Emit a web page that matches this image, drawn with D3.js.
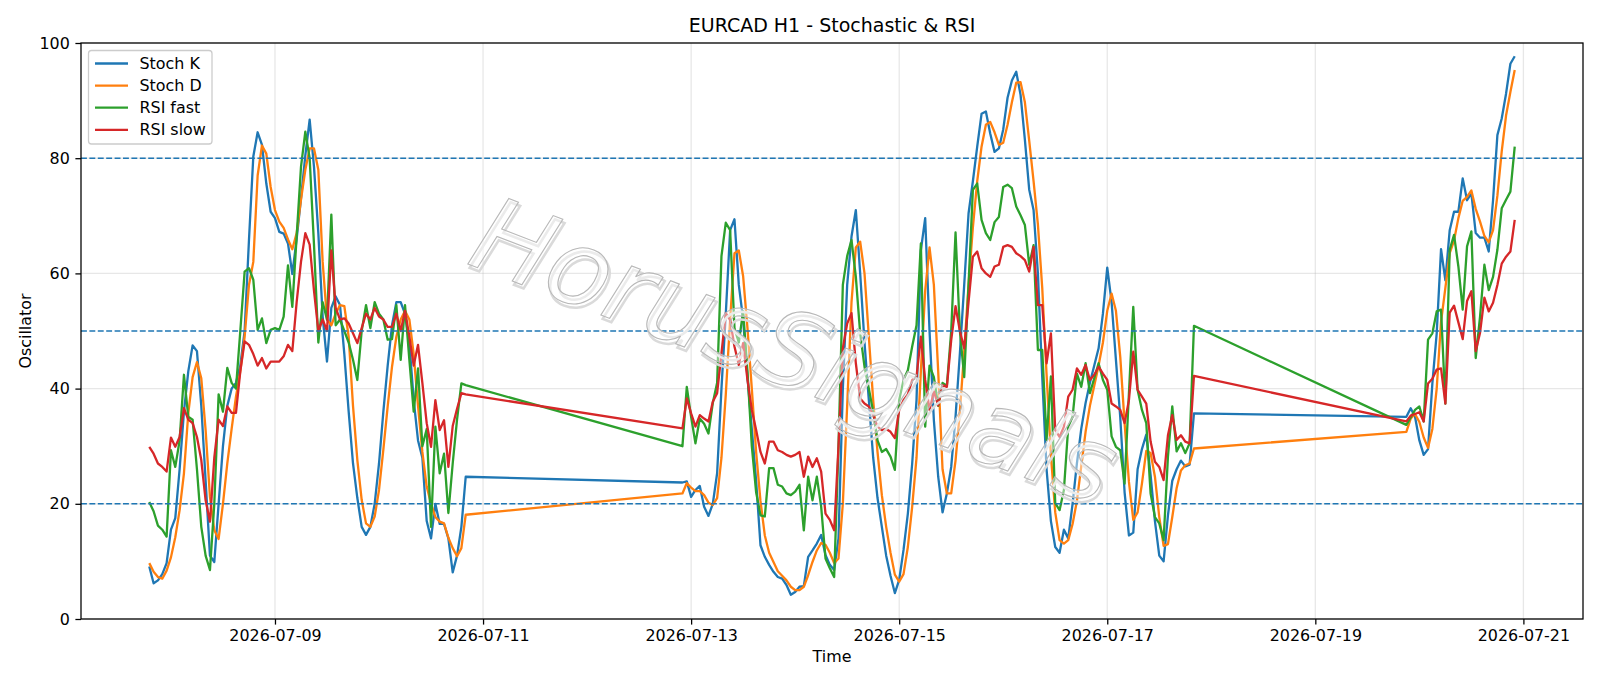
<!DOCTYPE html>
<html><head><meta charset="utf-8">
<script src="https://cdn.jsdelivr.net/npm/d3@7"></script>
<style>body{margin:0;background:#fff} svg{display:block} text{font-family:"DejaVu Sans",sans-serif}</style>
</head><body><svg id="chart" width="1600" height="686"></svg>
<script>
// hourly segments (weekend gaps between them)
const segmentStarts = ["2026-07-07T19:00:00Z", "2026-07-12T22:00:00Z", "2026-07-19T21:00:00Z"];

const stochK = [
 [9.1,6.2,6.7,7.8,9.7,15.5,17.5,26,36,43,47.5,46.5,37,24,11,9.9,20,30,37,40,41,44,50,65.8,80.3,84.5,82.3,75.6,70.7,69.6,67.2,66.9,65.2,59.9,66,73,80.5,86.7,78.5,67,52.5,44.7,54,56,54.5,46,36,27,21,16,14.6,16,20,27,36,44,51,55,55,53,48,38,31,28,17,14,20,16.5,16.5,14,8.1,11,16,24.7],
 [23.7,23.9,21.2,22.4,23.1,19.5,17.9,20,25.3,40,53,67.5,69.4,58,52,42,33,24,12.8,10.8,9.4,8.2,7.3,7.0,5.9,4.2,4.7,5.6,5.7,10.8,11.9,13.1,14.6,11.1,9.4,8.5,14,40,58,66.4,71,60,48,38,28,21,16,11,7.5,4.5,6.8,12,18.3,27,38,64,69.6,50,34.5,24.7,18.5,21.8,26.4,35.1,46.1,58,70.4,76,82,87.7,88.1,84.3,81.1,81.7,85,90.5,93.5,95,91,83.2,74.5,71,60,42,26,17,12.5,11.5,15.5,14,20,27,33,37.5,41,44,47,53,61,55,45,35,22,14.5,15,26,29.5,32,25,17,11,10,18,24,26,27.5,26.5,26.8,35.7],
 [35.1,36.6,35.1,31,28.5,29.5,40.9,49.6,64.2,58.8,67.5,70.7,70.7,76.5,72.7,73.9,67,66.2,66.2,63.8,72.7,84,86.9,91.2,96.4,97.7]
];
const stochD = [
 [9.7,8.2,7.3,7.0,8.4,10.7,14.2,18.9,25.3,35.7,42,44.6,41.8,32.8,21.2,15.4,13.9,20,27,33,38.6,43,49,58,62,77,82.2,80.8,75,71,69,67.9,65.9,64.2,67,72.8,78,81.7,81.7,78,62,52,51,53,54.5,54.3,49,37,27.6,20.7,16.6,16,17.8,22.4,29.4,36.9,43.8,49,52,53.5,52,46,37,29,23,20,17.7,16.9,16.6,14.1,12.3,10.9,12.3,18.1],
 [21.8,23.6,22.8,22.2,22.2,21.5,20.2,19.8,21,28,39,52,63.5,64,59.5,50.5,40,29,20.5,14.5,11.5,9.9,8.3,7.5,6.7,5.6,5.0,5.0,5.6,7.6,9.9,11.9,13.2,12.9,11.5,9.7,10.5,20,37,55,64.5,65.5,60,49,38,29,21.5,16,11.5,7.7,6.5,7.8,12.5,19.5,28,43,57,64.5,58,43,26,21.8,21.8,27.5,36,46.5,58,68,76,82,85.8,86.3,84.5,82.3,82.7,85.8,89.7,93.1,93.2,89.7,83,76,68.5,57.5,42.5,28.5,18.5,13.7,13.1,13.7,16.5,20.5,26.5,32.5,37,40.5,44,48,53.5,56.5,53.5,45.5,34,23.8,17.2,18.5,23.5,29.2,28.8,24.7,17.7,12.7,13,17.7,22.7,25.8,26.7,27,29.6],
 [32.5,34.8,35.6,34.2,31.5,29.7,33,40,51.6,57.5,63.5,65.7,69.6,72.6,73.3,74.4,71.2,69,66.5,65.4,67.5,73.5,81.2,87.4,91.5,95.3]
];
const rsiFast = [
 [20.3,18.7,16.2,15.5,14.3,29.3,26.4,31,42.4,35.1,34.6,26,16,11,8.5,20,39,36,43.6,41,40,50,60.3,60.9,58.9,50.2,52.2,47.9,50.2,50.5,50.2,52.5,61.4,54.2,66.4,78.5,84.6,80,65,48,55,52,70.2,51,52,50,48,45,41.5,50,54.5,50.5,55,53,52,48.5,48.6,54.5,45,54.5,45,36,43.5,30,33,16,33.4,25.3,28.7,18.4,27,34.6,40.9,40.6],
 [30,40.3,35.1,30.5,34.8,33.9,32.2,37.5,41,63,68.8,67.5,50.5,48,53.4,43,30,22,18,17.8,26.2,26.2,23.3,23,21.8,21.5,22.1,23.3,15.4,24.7,20.6,24.7,19.5,10.5,8.8,7.3,30,58,63,65.8,59.4,49.6,43.8,40,36,31,29,29.5,28.2,25.9,38,41.5,43.2,47.3,51,65.2,33.4,44,42,37,41,40.5,50,67.1,50,42,58,74.5,75.6,69.3,67,65.8,68.9,69.8,75,75.4,74.8,71.6,70.1,68.4,61.5,64.9,46.7,46.7,31.1,42.1,20.1,18.9,22.4,33.4,35.1,42.6,40.3,44.4,39.2,41.8,44.4,41.5,39.8,31.7,29.9,29.3,23.5,39.2,54.2,39.8,36.3,34,21.8,17.7,16.6,13.7,28.2,36.9,29.1,30.5,28.8,30.5,50.9],
 [33.7,35,36.3,36.9,34.3,48.5,49.6,53.4,53.7,37.4,64.1,66.7,61.2,53.7,64.7,67.3,45.3,52.5,61.5,57.1,59.4,64.1,71.3,72.8,74.2,82]
];
const rsiSlow = [
 [29.9,28.7,27,26.4,25.6,31.5,29.9,31.6,36.6,34.6,34,31.6,27.6,20.6,16.9,28,34.6,33.5,36.9,35.8,35.8,43,48.2,47.6,46,44,45.3,43.5,44.7,44.7,44.7,45.6,47.6,46.5,55,62,67,65,57,50,52,50,64,54,52,52.2,51.3,49.6,47.9,50.5,53,52,54,52.5,52,50.7,50.7,53,50,53.5,49,44,47.6,41,34,29.9,38,32.8,34.5,26.4,33.5,36.5,39.2,39],
 [33.1,38.3,35.7,33.4,35.4,34.8,34.3,37.7,39.2,46.1,53.1,51.9,47.3,44.1,47.9,41.5,36.3,32.8,29,27,30.8,30.8,29.3,29,28.5,28.2,28.5,29,24.7,28.2,26.4,27.9,25.6,18.3,17.2,15.4,30,47,51.3,53.1,44.4,38.3,37.4,36.9,35.4,33.4,32.8,33,32.5,31.4,36.3,38,39,41.5,42.1,49,41.5,36.3,39.5,37.1,40.6,40.3,48.4,54.3,50,47,55,62.9,63.8,60.9,60,59.4,61.2,61.5,64.6,64.9,64.6,63.5,63,62.3,60.3,64.6,54.5,54.5,44.4,49.6,32.8,31.6,33.4,38.6,39.8,43.5,42.4,44.1,41.5,42.4,43.8,42.6,41.5,37.4,36.9,36.3,34,38,46.4,39.8,38.6,37.4,30.8,27.3,26.4,24.1,31.9,35.4,31.1,31.9,30.8,30.5,42.2],
 [34.3,35.3,35.6,35.9,34.3,40.9,41.7,43.3,43.5,37.4,53.2,54.4,51.5,48.6,55.2,56.9,46.5,49.7,55.8,53.4,54.9,58,61.7,62.9,63.8,69.3]
];
const seriesNames = ["Stoch K", "Stoch D", "RSI fast", "RSI slow"];
const seriesColors = ["#1f77b4", "#ff7f0e", "#2ca02c", "#d62728"];
const levels = [20, 50, 80];
const yTicks = [0, 20, 40, 60, 80, 100];
const xTickDates = ["2026-07-09","2026-07-11","2026-07-13","2026-07-15","2026-07-17","2026-07-19","2026-07-21"];

function buildSeries(segs) {
  const out = [];
  segs.forEach((vals, i) => {
    const t0 = new Date(segmentStarts[i]);
    vals.forEach((v, j) => out.push({date: d3.utcHour.offset(t0, j), value: v}));
  });
  return out;
}
const allSeries = [stochK, stochD, rsiFast, rsiSlow].map(buildSeries);

const L = 81, R = 1583, T = 43, B = 619;
const svg = d3.select("#chart");
const allDates = allSeries[0].map(d => d.date);
const dmin = d3.min(allDates), dmax = d3.max(allDates);
const pad = (dmax - dmin) * 0.05;
const x = d3.scaleUtc().domain([new Date(+dmin - pad), new Date(+dmax + pad)]).range([L, R]);
const y = d3.scaleLinear().domain([0, 100]).range([B, T]);

// grid
const g = svg.append("g");
g.selectAll(".gx").data(xTickDates).join("line")
  .attr("x1", d => x(new Date(d + "T00:00:00Z"))).attr("x2", d => x(new Date(d + "T00:00:00Z")))
  .attr("y1", T).attr("y2", B).attr("stroke", "#b0b0b0").attr("stroke-opacity", 0.3).attr("stroke-width", 1.27);
g.selectAll(".gy").data(yTicks).join("line")
  .attr("x1", L).attr("x2", R).attr("y1", d => y(d)).attr("y2", d => y(d))
  .attr("stroke", "#b0b0b0").attr("stroke-opacity", 0.3).attr("stroke-width", 1.27);

// series
const line = d3.line().x(d => x(d.date)).y(d => y(d.value));
allSeries.forEach((s, i) => {
  svg.append("path").datum(s).attr("d", line).attr("fill", "none")
    .attr("stroke", seriesColors[i]).attr("stroke-width", 2.3).attr("stroke-linejoin", "round").attr("stroke-linecap", "butt");
});

// level lines
svg.selectAll(".lvl").data(levels).join("line")
  .attr("x1", L).attr("x2", R).attr("y1", d => y(d)).attr("y2", d => y(d))
  .attr("stroke", "#1f77b4").attr("stroke-width", 1.6).attr("stroke-dasharray", "5.9,2.5");

// axes
const xAxis = d3.axisBottom(x).tickValues(xTickDates.map(d => new Date(d + "T00:00:00Z")))
  .tickFormat(d3.utcFormat("%Y-%m-%d")).tickSize(5.6).tickPadding(5.6);
const yAxis = d3.axisLeft(y).tickValues(yTicks).tickSize(5.6).tickPadding(5.6);
const gx = svg.append("g").attr("transform", `translate(0,${B})`).call(xAxis);
const gy = svg.append("g").attr("transform", `translate(${L},0)`).call(yAxis);
[gx, gy].forEach(a => {
  a.select(".domain").remove();
  a.selectAll("line").attr("stroke", "#000").attr("stroke-width", 1.27);
  a.selectAll("text").attr("font-size", "15.9px").attr("fill", "#000").attr("font-family", "DejaVu Sans");
});

// spines
svg.append("rect").attr("x", L).attr("y", T).attr("width", R - L).attr("height", B - T)
  .attr("fill", "none").attr("stroke", "#000").attr("stroke-width", 1.27);

// labels
svg.append("text").attr("x", (L + R) / 2).attr("y", 32).attr("text-anchor", "middle")
  .attr("font-size", "19px").text("EURCAD H1 - Stochastic & RSI");
svg.append("text").attr("x", (L + R) / 2).attr("y", 662).attr("text-anchor", "middle")
  .attr("font-size", "15.9px").text("Time");
svg.append("text").attr("transform", `translate(31,${(T + B) / 2}) rotate(-90)`).attr("text-anchor", "middle")
  .attr("font-size", "15.9px").text("Oscillator");

// legend
const lg = svg.append("g");
lg.append("rect").attr("x", 88.5).attr("y", 50.5).attr("width", 123.5).attr("height", 93.5).attr("rx", 3)
  .attr("fill", "#fff").attr("fill-opacity", 0.8).attr("stroke", "#cccccc").attr("stroke-width", 1.27);
seriesNames.forEach((n, i) => {
  const yy = 63.5 + i * 22.1;
  lg.append("line").attr("x1", 95).attr("x2", 128).attr("y1", yy).attr("y2", yy)
    .attr("stroke", seriesColors[i]).attr("stroke-width", 2.3);
  lg.append("text").attr("x", 139.5).attr("y", yy + 5.6).attr("font-size", "15.9px").text(n);
});

// watermark
const wm = svg.append("g").attr("transform", "translate(792,358) rotate(21)");
wm.append("text").attr("x", 3).attr("y", 3).attr("text-anchor", "middle").attr("dominant-baseline", "middle")
  .attr("font-size", "104px").attr("font-style", "italic").attr("fill", "none")
  .attr("stroke", "#dadada").attr("stroke-width", 2.5).text("HorusSignals");
wm.append("text").attr("text-anchor", "middle").attr("dominant-baseline", "middle")
  .attr("font-size", "104px").attr("font-style", "italic").attr("fill", "#fff").attr("fill-opacity", 0.45)
  .attr("stroke", "#b8b8b8").attr("stroke-width", 1.1).text("HorusSignals");
</script></body></html>
